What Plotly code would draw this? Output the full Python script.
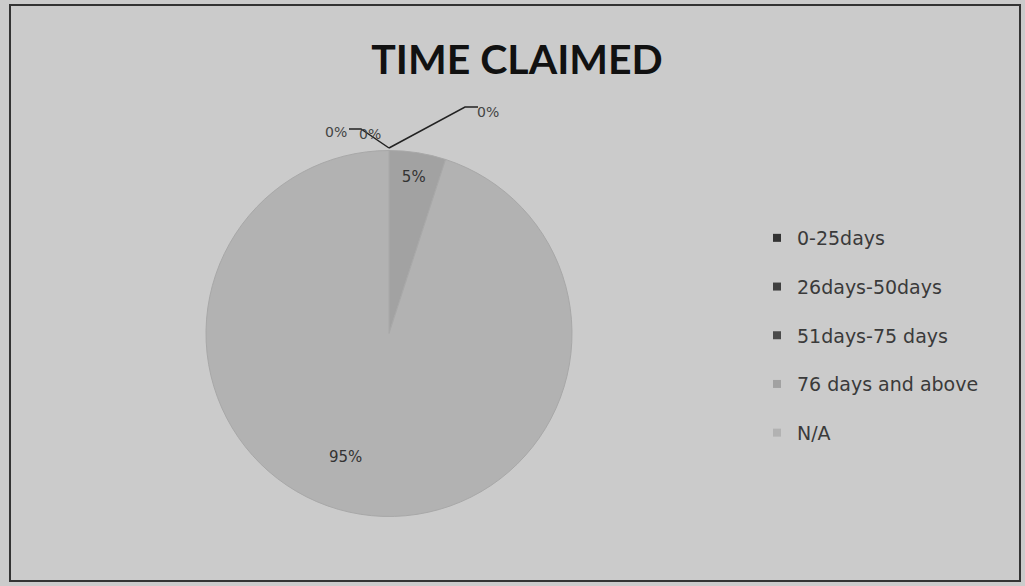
import plotly.graph_objects as go

categories = ["0-25days", "26days-50days", "51days-75 days", "76 days and above", "N/A"]
values = [0, 0, 0, 5, 95]
colors = ["#333333", "#3f3f3f", "#4a4a4a", "#a2a2a2", "#b2b2b2"]
title_text = "TIME CLAIMED"

W, H = 1025, 586
def px(x):
    return x / W
def py(y):
    return 1 - y / H

total = sum(values)
pct = [f"{v/total:.0%}" for v in values]

fig = go.Figure()

fig.add_trace(go.Pie(
    labels=categories,
    values=values,
    sort=False,
    direction="clockwise",
    rotation=0,
    marker=dict(colors=colors, line=dict(color="#a8a8a8", width=1)),
    texttemplate="%{percent:.0%}",
    textposition=["inside" if (v > 0 and v / total < 0.5) else "none" for v in values],
    insidetextorientation="horizontal",
    textfont=dict(family="DejaVu Sans", size=15, color="#333333"),
    domain=dict(x=[px(206), px(572)], y=[py(517), py(150)]),
    showlegend=False,
    hoverinfo="label+percent",
))

# legend entries (one per category)
for cat, col in zip(categories, colors):
    fig.add_trace(go.Scatter(
        x=[None], y=[None], mode="markers", name=cat, legendgroup=cat,
        marker=dict(symbol="square", size=8, color=col),
    ))

# label for the large slice
big = values.index(max(values))
fig.add_annotation(x=px(345), y=py(468), xref="paper", yref="paper", text=pct[big],
                   showarrow=False, font=dict(family="DejaVu Sans", size=15, color="#333333"))

# zero-value labels
zero_pos = [(323, 122), (370, 124), (488, 102)]
zero_labels = [p for p, v in zip(pct, values) if v == 0]
for lbl, (zx, zy) in zip(zero_labels, zero_pos):
    fig.add_annotation(x=px(zx), y=py(zy), xref="paper", yref="paper", text=lbl,
                       showarrow=False, font=dict(family="DejaVu Sans", size=14, color="#444444"))

def path(points):
    return "M " + " L ".join(f"{px(x)} {py(y)}" for x, y in points)

shapes = [
    dict(type="rect", xref="paper", yref="paper", x0=px(10), x1=px(1020), y0=py(581), y1=py(5),
         line=dict(color="#333333", width=2)),
    dict(type="path", xref="paper", yref="paper", path=path([(349, 129), (361, 129), (389, 148)]),
         line=dict(color="#222222", width=1.5)),
    dict(type="path", xref="paper", yref="paper", path=path([(389, 148), (465, 107), (478, 107)]),
         line=dict(color="#222222", width=1.5)),
]

fig.update_layout(
    width=W, height=H,
    margin=dict(l=0, r=0, t=0, b=0),
    paper_bgcolor="#cbcbcb",
    plot_bgcolor="rgba(0,0,0,0)",
    xaxis=dict(visible=False),
    yaxis=dict(visible=False),
    title=dict(text=f"<b>{title_text}</b>", x=px(517), xanchor="center", y=py(60), yanchor="middle",
               font=dict(family="Lato", size=41, color="#111111")),
    legend=dict(x=px(757), y=py(219), xanchor="left", yanchor="top",
                font=dict(family="DejaVu Sans", size=19, color="#3a3a3a"),
                tracegroupgap=21, bgcolor="rgba(0,0,0,0)", itemwidth=30),
    shapes=shapes,
)

fig.write_html(
    "out.html",
    config={"displayModeBar": False},
    post_script="document.body.style.margin='0';document.body.style.overflow='hidden';"
                "document.body.style.background='#cbcbcb';",
)
